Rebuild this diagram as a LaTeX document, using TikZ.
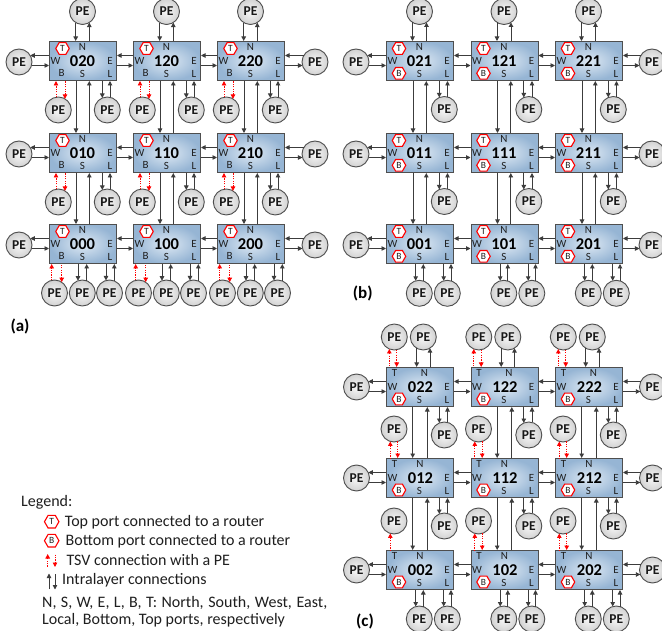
\documentclass[tikz,border=0pt]{standalone}
\usepackage{fontspec}
\setmainfont{Carlito}
\usetikzlibrary{calc,shapes.geometric,arrows.meta}
\definecolor{boxin}{RGB}{222,233,244}
\definecolor{boxout}{RGB}{150,181,212}
\definecolor{boxline}{RGB}{78,78,78}
\definecolor{conn}{RGB}{60,60,60}
\definecolor{pein}{RGB}{248,248,248}
\definecolor{peout}{RGB}{210,210,210}
\definecolor{tsv}{RGB}{255,0,0}
\tikzset{
  x=1pt, y=-1pt,
  rbox/.style={draw=boxline,line width=1pt,inner color=boxin,outer color=boxout,
    minimum width=67pt,minimum height=39pt,inner sep=0pt,anchor=north west},
  penode/.style={circle,draw=boxline,line width=0.9pt,inner color=pein,outer color=peout,
    minimum size=26pt,inner sep=0pt,font=\fontsize{13.5}{13.5}\selectfont\bfseries,text=black!90},
  port/.style={inner sep=0pt,font=\fontsize{11}{11}\selectfont,text=black!88},
  num/.style={inner sep=0pt,font=\fontsize{16.5}{16.5}\selectfont\bfseries,text=black},
  hexa/.style={regular polygon,regular polygon sides=6,draw=tsv,line width=1.1pt,fill=white,
    minimum size=13.5pt,inner sep=0pt,font=\fontsize{9.5}{9.5}\selectfont,text=black!88},
  cl/.style={draw=conn,line width=0.9pt},
  tl/.style={draw=tsv,line width=0.9pt,dash pattern=on 1.2pt off 1.2pt},
  fwd/.style={-{Triangle[length=4.5pt,width=4.5pt]}},
  bwd/.style={{Triangle[length=4.5pt,width=4.5pt]}-},
  lgtext/.style={inner sep=0pt,anchor=base west,font=\fontsize{16}{16}\selectfont,text=black!88},
  panlab/.style={inner sep=0pt,font=\fontsize{17}{17}\selectfont\bfseries,text=black}
}
% router: id, X, Y, layer, N x-offset, number x-offset
\newcommand\rtr[6]{%
  \node[rbox] (r#1) at (#2,#3) {};
  \ifcase#4
    \node[hexa] (r#1T) at ($(r#1.north west)+(13.5,7.5)$) {T};
    \node[port] (r#1B) at ($(r#1.north west)+(12.5,32.3)$) {B};
  \or
    \node[hexa] (r#1T) at ($(r#1.north west)+(13,7.5)$) {T};
    \node[hexa] (r#1B) at ($(r#1.north west)+(13,32.3)$) {B};
  \or
    \node[port] (r#1T) at ($(r#1.north west)+(8.5,5.5)$) {T};
    \node[hexa] (r#1B) at ($(r#1.north west)+(13,32)$) {B};
  \fi
  \node[port] (r#1N) at ($(r#1.north west)+(#5,5.5)$) {N};
  \node[port] (r#1W) at ($(r#1.north west)+(6.5,20)$) {W};
  \node[port] (r#1E) at ($(r#1.north west)+(61,20)$) {E};
  \node[port] (r#1S) at ($(r#1.north west)+(33.5,32.5)$) {S};
  \node[port] (r#1L) at ($(r#1.north west)+(61,32.5)$) {L};
  \node[num] (r#1id) at ($(r#1.north west)+(#6,20.3)$) {#1};
}
% PE above box: style, pe, x offset from box left, box
\newcommand\peA[4]{\draw[#1] let \p1=(#2.center), \p2=(#4.north west) in
  ({\x2+#3},{\y1-sqrt(max(0,169-(\x2+#3-\x1)^2))}) -- ({\x2+#3},\y2);}
% PE below box
\newcommand\peB[4]{\draw[#1] let \p1=(#2.center), \p2=(#4.south west) in
  ({\x2+#3},{\y1+sqrt(max(0,169-(\x2+#3-\x1)^2))}) -- ({\x2+#3},\y2);}
% PE left of box: style, pe, y offset from box top, box
\newcommand\peL[4]{\draw[#1] let \p1=(#2.center), \p2=(#4.north west) in
  ({\x1+sqrt(max(0,169-(\y2-#3-\y1)^2))},{\y2-#3}) -- (\x2,{\y2-#3});}
% PE right of box
\newcommand\peR[4]{\draw[#1] let \p1=(#2.center), \p2=(#4.north east) in
  ({\x1-sqrt(max(0,169-(\y2-#3-\y1)^2))},{\y2-#3}) -- (\x2,{\y2-#3});}
% horizontal pair between routers
\newcommand\hh[2]{%
  \draw[cl,bwd] ($(r#1.north east)+(0,14.5)$) -- ($(r#2.north west)+(0,14.5)$);
  \draw[cl,fwd] ($(r#1.north east)+(0,24.5)$) -- ($(r#2.north west)+(0,24.5)$);}
% vertical pair between routers
\newcommand\vv[4]{%
  \draw[cl,fwd] ($(r#1.south west)+(#3,0)$) -- ($(r#2.north west)+(#3,0)$);
  \draw[cl,bwd] ($(r#1.south west)+(#4,0)$) -- ($(r#2.north west)+(#4,0)$);}

\begin{document}
\begin{tikzpicture}
\useasboundingbox[fill=white] (0,0) rectangle (662,631);

%%%%%%%%%%%%%%%% panel (a)
\foreach \i/\X in {0/49,1/133,2/217}{
  \foreach \j/\Y in {2/41,1/133,0/224}{
    \rtr{\i\j0}{\X}{\Y}{0}{33.5}{33.5}
  }
}
\foreach \j in {0,1,2}{\hh{0\j0}{1\j0}\hh{1\j0}{2\j0}}
\foreach \i in {0,1,2}{\vv{\i20}{\i10}{27}{40.3}\vv{\i10}{\i00}{27}{40.3}}
\foreach \j/\Y in {2/41,1/133,0/224}{
  \node[penode] (pa-W\j) at (19,\Y+21) {PE};
  \node[penode] (pa-E\j) at (315,\Y+21) {PE};
  \peL{cl,bwd}{pa-W\j}{14.5}{r0\j0}
  \peL{cl,fwd}{pa-W\j}{24.5}{r0\j0}
  \peR{cl,fwd}{pa-E\j}{14.5}{r2\j0}
  \peR{cl,bwd}{pa-E\j}{24.5}{r2\j0}
}
\foreach \i/\X in {0/49,1/133,2/217}{
  \node[penode] (pa-N\i) at (\X+33.5,11.5) {PE};
  \peA{cl,fwd}{pa-N\i}{26.7}{r\i20}
  \peA{cl,bwd}{pa-N\i}{40.3}{r\i20}
  \foreach \j/\Y in {2/41,1/133}{
    \node[penode] (pa-B\i\j) at (\X+9.3,\Y+69) {PE};
    \node[penode] (pa-L\i\j) at (\X+58.3,\Y+69) {PE};
    \peB{tl,fwd}{pa-B\i\j}{7}{r\i\j0}
    \peB{tl,bwd}{pa-B\i\j}{16}{r\i\j0}
    \peB{cl,bwd}{pa-L\i\j}{53.3}{r\i\j0}
    \peB{cl,fwd}{pa-L\i\j}{61}{r\i\j0}
  }
  \node[penode] (pa-BB\i) at (\X+5.5,293) {PE};
  \node[penode] (pa-S\i) at (\X+33.3,293) {PE};
  \node[penode] (pa-LL\i) at (\X+60.5,293) {PE};
  \peB{tl,fwd}{pa-BB\i}{2.7}{r\i00}
  \peB{tl,bwd}{pa-BB\i}{12.7}{r\i00}
  \peB{cl,bwd}{pa-S\i}{29}{r\i00}
  \peB{cl,fwd}{pa-S\i}{37.7}{r\i00}
  \peB{cl,bwd}{pa-LL\i}{57}{r\i00}
  \peB{cl,fwd}{pa-LL\i}{65.3}{r\i00}
}
\node[panlab] (lab-a) at (20,326) {(a)};

%%%%%%%%%%%%%%%% panel (b)
\foreach \i/\X in {0/386,1/470.5,2/555}{
  \foreach \j/\Y in {2/41,1/133,0/224}{
    \rtr{\i\j1}{\X}{\Y}{1}{33.5}{33.5}
  }
}
\foreach \j in {0,1,2}{\hh{0\j1}{1\j1}\hh{1\j1}{2\j1}}
\foreach \i in {0,1,2}{\vv{\i21}{\i11}{27}{40.3}\vv{\i11}{\i01}{27}{40.3}}
\foreach \j/\Y in {2/41,1/133,0/224}{
  \node[penode] (pb-W\j) at (356,\Y+21) {PE};
  \node[penode] (pb-E\j) at (652,\Y+21) {PE};
  \peL{cl,bwd}{pb-W\j}{14.5}{r0\j1}
  \peL{cl,fwd}{pb-W\j}{24.5}{r0\j1}
  \peR{cl,fwd}{pb-E\j}{14.5}{r2\j1}
  \peR{cl,bwd}{pb-E\j}{24.5}{r2\j1}
}
\foreach \i/\X in {0/386,1/470.5,2/555}{
  \node[penode] (pb-N\i) at (\X+33.5,11.5) {PE};
  \peA{cl,fwd}{pb-N\i}{26.5}{r\i21}
  \peA{cl,bwd}{pb-N\i}{40.5}{r\i21}
  \foreach \j/\Y in {2/41,1/133}{
    \node[penode] (pb-L\i\j) at (\X+58.3,\Y+68.5) {PE};
    \peB{cl,bwd}{pb-L\i\j}{53.3}{r\i\j1}
    \peB{cl,fwd}{pb-L\i\j}{61.5}{r\i\j1}
  }
  \node[penode] (pb-S\i) at (\X+33.3,293.3) {PE};
  \node[penode] (pb-LL\i) at (\X+61.3,293.3) {PE};
  \peB{cl,bwd}{pb-S\i}{29.7}{r\i01}
  \peB{cl,fwd}{pb-S\i}{37.3}{r\i01}
  \peB{cl,bwd}{pb-LL\i}{57.7}{r\i01}
  \peB{cl,fwd}{pb-LL\i}{65}{r\i01}
}
\node[panlab] (lab-b) at (362.8,293) {(b)};

%%%%%%%%%%%%%%%% panel (c)
\foreach \i/\X in {0/386,1/470.5,2/555}{
  \rtr{\i22}{\X}{367}{2}{38.5}{34.5}
  \rtr{\i12}{\X}{458}{2}{34}{34.5}
  \rtr{\i02}{\X}{550}{2}{34}{34.5}
}
\foreach \j in {0,1,2}{\hh{0\j2}{1\j2}\hh{1\j2}{2\j2}}
\foreach \i in {0,1,2}{\vv{\i22}{\i12}{26.7}{41.3}\vv{\i12}{\i02}{26.7}{41.3}}
\foreach \j/\Y in {2/367,1/458,0/550}{
  \node[penode] (pc-W\j) at (356.5,\Y+20) {PE};
  \node[penode] (pc-E\j) at (652.5,\Y+20) {PE};
  \peL{cl,bwd}{pc-W\j}{14.5}{r0\j2}
  \peL{cl,fwd}{pc-W\j}{24.5}{r0\j2}
  \peR{cl,fwd}{pc-E\j}{14.5}{r2\j2}
  \peR{cl,bwd}{pc-E\j}{24.5}{r2\j2}
}
\foreach \i/\X in {0/386,1/470.5,2/555}{
  \node[penode] (pc-T\i) at (\X+8.3,337) {PE};
  \node[penode] (pc-N\i) at (\X+37.3,337) {PE};
  \peA{tl,bwd}{pc-T\i}{3.3}{r\i22}
  \peA{tl,fwd}{pc-T\i}{10.7}{r\i22}
  \peA{cl,fwd}{pc-N\i}{30.7}{r\i22}
  \peA{cl,bwd}{pc-N\i}{44}{r\i22}
  \foreach \j/\Y in {2/367,1/458}{
    \node[penode] (pc-L\i\j) at (\X+58.3,\Y+68) {PE};
    \peB{cl,bwd}{pc-L\i\j}{53.3}{r\i\j2}
    \peB{cl,fwd}{pc-L\i\j}{61.5}{r\i\j2}
  }
  \node[penode] (pc-T\i1) at (\X+8,429) {PE};
  \peA{tl,bwd}{pc-T\i1}{4.3}{r\i12}
  \peA{tl,fwd}{pc-T\i1}{11.7}{r\i12}
  \node[penode] (pc-T\i0) at (\X+8,521) {PE};
  \peA{tl,bwd}{pc-T\i0}{4.3}{r\i02}
  \node[penode] (pc-S\i) at (\X+33.3,619) {PE};
  \node[penode] (pc-LL\i) at (\X+61.3,619) {PE};
  \peB{cl,bwd}{pc-S\i}{29.7}{r\i02}
  \peB{cl,fwd}{pc-S\i}{37.3}{r\i02}
  \peB{cl,bwd}{pc-LL\i}{57.7}{r\i02}
  \peB{cl,fwd}{pc-LL\i}{65}{r\i02}
}
\peA{tl,fwd}{pc-T10}{11.7}{r102}
\peA{tl,fwd}{pc-T20}{11.7}{r202}
\node[panlab] (lab-c) at (365,621.7) {(c)};

%%%%%%%%%%%%%%%% legend
\node[lgtext] (lg0) at (21,506.5) {Legend:};
\node[hexa,minimum size=14.5pt] (lgT) at (51.7,521.7) {T};
\node[lgtext] (lg1) at (64.7,526.7) {Top port connected to a router};
\node[hexa,minimum size=14.5pt] (lgB) at (51.7,540.7) {B};
\node[lgtext] (lg2) at (65.5,545.7) {Bottom port connected to a router};
\coordinate (ts1) at (47.7,566.5);
\coordinate (ts2) at (47.7,554);
\coordinate (ts3) at (55,554.5);
\coordinate (ts4) at (55,567);
\draw[tl,fwd] (ts1) -- (ts2);
\draw[tl,fwd] (ts3) -- (ts4);
\node[lgtext] (lg3) at (66.3,565.3) {TSV connection with a PE};
\coordinate (in1) at (49,589);
\coordinate (in2) at (49,573.5);
\coordinate (in3) at (55,574);
\coordinate (in4) at (55,589.5);
\draw[cl,fwd] (in1) -- (in2);
\draw[cl,fwd] (in3) -- (in4);
\node[lgtext] (lg4) at (62,584) {Intralayer connections};
\node[lgtext] (lg5) at (42,607.3) {\makebox[285pt][s]{N, S, W, E, L, B, T: North, South, West, East,}};
\node[lgtext] (lg6) at (42,624) {Local, Bottom, Top ports, respectively};
\end{tikzpicture}
\end{document}
